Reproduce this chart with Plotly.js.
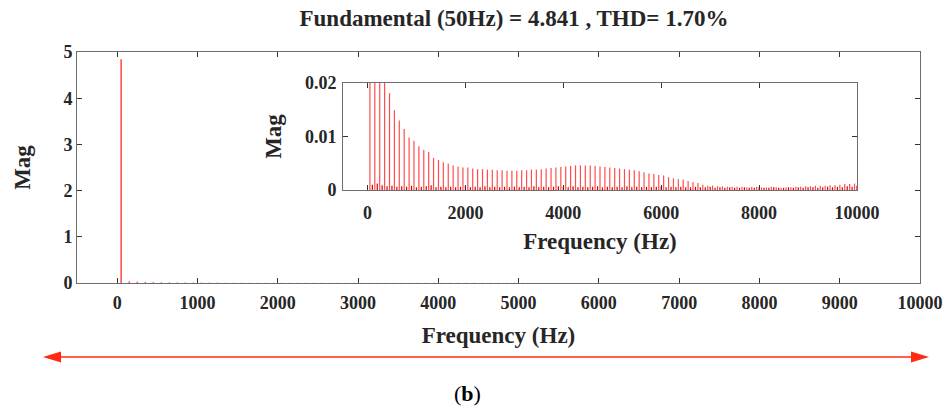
<!DOCTYPE html>
<html><head><meta charset="utf-8">
<script src="https://cdn.plot.ly/plotly-3.0.1.min.js"></script>
<style>html,body{margin:0;padding:0;background:#fff;}</style>
</head><body><div id="chart" style="width:949px;height:414px;"></div>
<script>
// ---- data ----
const fundamentalFreq = [50];
const fundamentalMag = [4.841];

const oddFreq = [150,250,350,450,550,650,750,850,950,1050,
  1150,1250,1350,1450,1550,1650,1750,1850,1950,2050,
  2150,2250,2350,2450,2550,2650,2750,2850,2950,3050,
  3150,3250,3350,3450,3550,3650,3750,3850,3950,4050,
  4150,4250,4350,4450,4550,4650,4750,4850,4950,5050,
  5150,5250,5350,5450,5550,5650,5750,5850,5950,6050,
  6150,6250,6350,6450,6550,6650,6750,6850,6950,7050,
  7150,7250,7350,7450,7550,7650,7750,7850,7950,8050,
  8150,8250,8350,8450,8550,8650,8750,8850,8950,9050,
  9150,9250,9350,9450,9550,9650,9750,9850,9950];
const oddMag = [0.035,0.028,0.022,0.0181,0.0149,0.0130,0.0114,0.0098,0.0092,0.0082,
  0.0075,0.0071,0.0060,0.0056,0.0052,0.0049,0.0046,0.0044,0.0042,0.0042,
  0.0040,0.0039,0.0039,0.0038,0.0038,0.0037,0.0037,0.0036,0.0036,0.0036,
  0.0037,0.0037,0.0038,0.0038,0.0039,0.0040,0.0041,0.0042,0.0043,0.0044,
  0.0045,0.0046,0.0046,0.0046,0.0046,0.0045,0.0044,0.0043,0.0042,0.0041,
  0.0040,0.0039,0.0038,0.0037,0.0035,0.0033,0.0031,0.0030,0.0028,0.0027,
  0.0024,0.0022,0.0020,0.0019,0.0017,0.0015,0.0013,0.0010,0.0008,0.0008,
  0.0007,0.0007,0.0006,0.0006,0.0006,0.0006,0.0005,0.0006,0.0006,0.0005,
  0.0005,0.0006,0.0005,0.0004,0.0005,0.0005,0.0006,0.0006,0.0007,0.0007,
  0.0008,0.0008,0.0008,0.0009,0.0009,0.0010,0.0011,0.0011,0.0012];

const evenFreq = [100,200,300,400,500,600,700,800,900,1000,
  1100,1200,1300,1400,1500,1600,1700,1800,1900,2000,
  2100,2200,2300,2400,2500,2600,2700,2800,2900,3000,
  3100,3200,3300,3400,3500,3600,3700,3800,3900,4000,
  4100,4200,4300,4400,4500,4600,4700,4800,4900,5000,
  5100,5200,5300,5400,5500,5600,5700,5800,5900,6000,
  6100,6200,6300,6400,6500,6600,6700,6800,6900,7000,
  7100,7200,7300,7400,7500,7600,7700,7800,7900,8000,
  8100,8200,8300,8400,8500,8600,8700,8800,8900,9000,
  9100,9200,9300,9400,9500,9600,9700,9800,9900,10000];
const evenMag = [0.0010,0.0012,0.0009,0.0007,0.0008,0.0006,0.0007,0.0006,0.0008,0.0005,
  0.0006,0.0007,0.0009,0.0005,0.0006,0.0005,0.0006,0.0005,0.0006,0.0008,
  0.0005,0.0006,0.0005,0.0007,0.0005,0.0006,0.0005,0.0006,0.0005,0.0006,
  0.0005,0.0006,0.0005,0.0007,0.0005,0.0006,0.0005,0.0006,0.0007,0.0006,
  0.0005,0.0007,0.0005,0.0006,0.0005,0.0006,0.0007,0.0005,0.0006,0.0005,
  0.0006,0.0005,0.0007,0.0005,0.0006,0.0005,0.0006,0.0005,0.0006,0.0007,
  0.0005,0.0006,0.0005,0.0006,0.0005,0.0005,0.0006,0.0005,0.0005,0.0006,
  0.0004,0.0005,0.0004,0.0005,0.0004,0.0004,0.0005,0.0004,0.0004,0.0005,
  0.0004,0.0004,0.0005,0.0004,0.0004,0.0005,0.0004,0.0005,0.0004,0.0005,
  0.0005,0.0004,0.0005,0.0006,0.0005,0.0006,0.0005,0.0007,0.0006,0.0008];

const mainXTicks = [0,1000,2000,3000,4000,5000,6000,7000,8000,9000,10000];
const mainYTicks = [0,1,2,3,4,5];
const insetXTicks = [0,2000,4000,6000,8000,10000];
const insetYTicks = [0,0.01,0.02];
const insetYTickText = ['0','0.01','0.02'];

const titleText = 'Fundamental (50Hz) = 4.841 , THD= 1.70%';
const xTitle = 'Frequency (Hz)';
const yTitle = 'Mag';
const panelLabel = '(<b>b</b>)';

// ---- helpers ----
function stems(freq, mag) {
  const x = [], y = [];
  for (let i = 0; i < freq.length; i++) {
    x.push(freq[i], freq[i], null);
    y.push(0, mag[i], null);
  }
  return {x, y};
}
const W = 949, H = 414;
const px = v => v / W;
const py = v => 1 - v / H;

const serif = 'Liberation Serif, Times New Roman, serif';
const txtCol = '#262626';
const fS = stems(fundamentalFreq, fundamentalMag);
const oS = stems(oddFreq, oddMag);
const eS = stems(evenFreq, evenMag);

const traces = [
  {x: oS.x, y: oS.y, xaxis: 'x', yaxis: 'y', mode: 'lines', line: {color: '#ff0000', width: 1}, hoverinfo: 'skip'},
  {x: fS.x, y: fS.y, xaxis: 'x', yaxis: 'y', mode: 'lines', line: {color: '#ff5050', width: 1.6}, hoverinfo: 'skip'},
  {x: oS.x, y: oS.y, xaxis: 'x2', yaxis: 'y2', mode: 'lines', line: {color: 'rgba(255,0,0,0.7)', width: 1.2}, hoverinfo: 'skip'},
  {x: eS.x, y: eS.y, xaxis: 'x2', yaxis: 'y2', mode: 'lines', line: {color: '#dd0000', width: 1.2}, hoverinfo: 'skip'},
  {x: fS.x, y: fS.y, xaxis: 'x2', yaxis: 'y2', mode: 'lines', line: {color: 'rgba(255,0,0,0.7)', width: 1.2}, hoverinfo: 'skip'}
];

const axisCommon = {
  showgrid: false, zeroline: false, showline: true, linecolor: '#6e6e6e', linewidth: 1,
  mirror: 'ticks', ticks: 'inside', ticklen: 5, tickcolor: '#333', tickwidth: 1,
  tickfont: {family: serif, size: 18, color: txtCol, weight: 'bold'}, fixedrange: true
};
const titleFont = {family: serif, size: 23, color: txtCol};

const layout = {
  width: W, height: H, margin: {l: 0, r: 0, t: 0, b: 0},
  paper_bgcolor: '#fff', plot_bgcolor: 'rgba(0,0,0,0)', showlegend: false,
  title: {text: '<b>' + titleText + '</b>', x: px(514), xanchor: 'center', y: py(18), yanchor: 'middle',
          font: {family: serif, size: 23, color: txtCol}},
  xaxis: Object.assign({}, axisCommon, {domain: [px(77), px(920)], range: [-500, 10000], anchor: 'y',
          tickvals: mainXTicks, ticktext: mainXTicks.map(String), ticklabelstandoff: 3,
          title: {text: '<b>' + xTitle + '</b>', standoff: 15, font: titleFont}}),
  yaxis: Object.assign({}, axisCommon, {domain: [py(283), py(52)], range: [0, 5], anchor: 'x',
          tickvals: mainYTicks, ticktext: mainYTicks.map(String),
          title: {text: '<b>' + yTitle + '</b>', standoff: 26, font: titleFont}}),
  xaxis2: Object.assign({}, axisCommon, {domain: [px(343), px(857)], range: [-500, 10000], anchor: 'y2',
          tickvals: insetXTicks, ticktext: insetXTicks.map(String), ticklabelstandoff: 6,
          title: {text: '<b>' + xTitle + '</b>', standoff: 11, font: titleFont}}),
  yaxis2: Object.assign({}, axisCommon, {domain: [py(190), py(83)], range: [0, 0.02], anchor: 'x2',
          tickvals: insetYTicks, ticktext: insetYTickText, ticklabelstandoff: 2,
          title: {text: '<b>' + yTitle + '</b>', standoff: 16, font: titleFont}}),
  shapes: [
    {type: 'line', xref: 'paper', yref: 'paper', x0: px(55), x1: px(916), y0: py(357), y1: py(357),
     line: {color: '#ff2a10', width: 1.5}},
    {type: 'path', xref: 'paper', yref: 'paper',
     path: `M ${px(43)} ${py(357)} L ${px(61)} ${py(351.5)} L ${px(61)} ${py(362.5)} Z`,
     fillcolor: '#ff2a10', line: {width: 0}},
    {type: 'path', xref: 'paper', yref: 'paper',
     path: `M ${px(929)} ${py(357)} L ${px(911)} ${py(351.5)} L ${px(911)} ${py(362.5)} Z`,
     fillcolor: '#ff2a10', line: {width: 0}}
  ],
  annotations: [
    {text: panelLabel, xref: 'paper', yref: 'paper', x: px(467), y: py(393), xanchor: 'center', yanchor: 'middle',
     showarrow: false, font: {family: serif, size: 22, color: '#000'}}
  ]
};

Plotly.newPlot('chart', traces, layout, {displayModeBar: false, staticPlot: true});
</script>
</body></html>
